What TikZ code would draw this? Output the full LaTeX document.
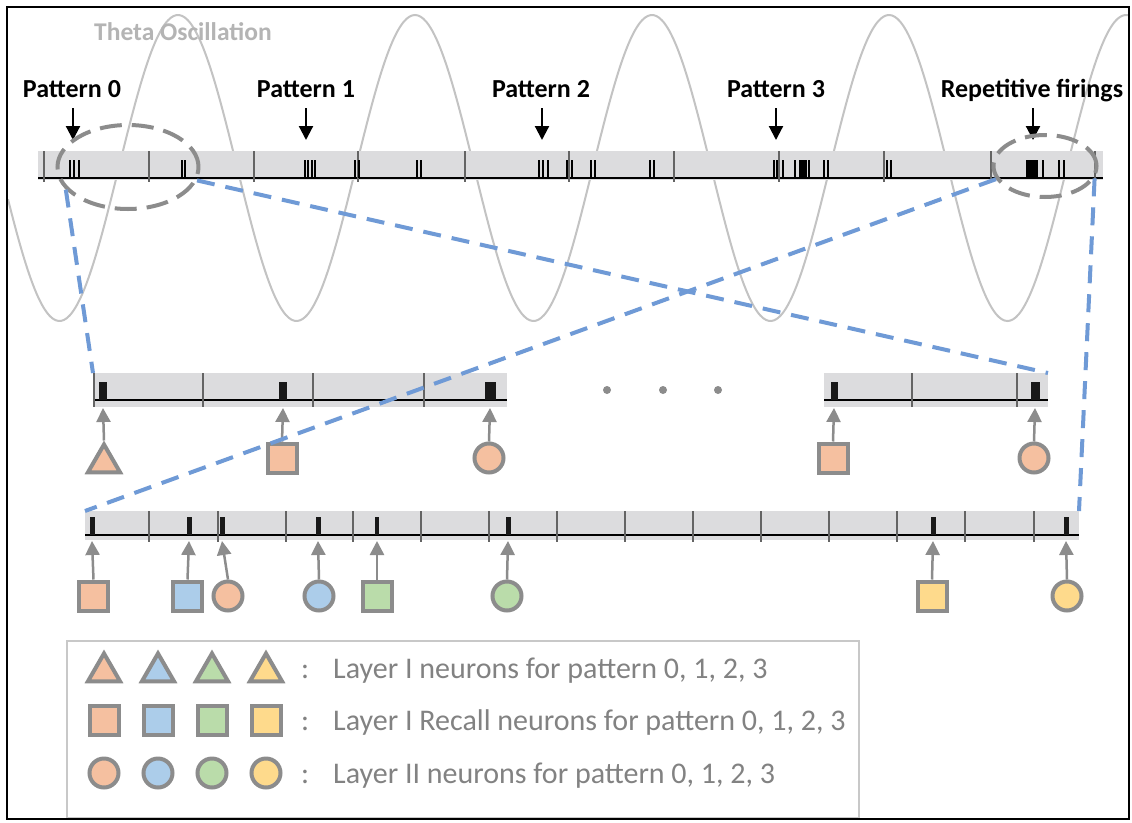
\documentclass[tikz,border=0pt]{standalone}
\usepackage{fontspec}
\setmainfont{Carlito}
\usetikzlibrary{shapes.geometric,arrows.meta}
\definecolor{sgray}{RGB}{140,140,140}
\definecolor{barfill}{RGB}{220,220,222}
\definecolor{divgray}{RGB}{100,100,100}
\definecolor{wavegray}{RGB}{195,195,195}
\definecolor{thetagray}{RGB}{180,180,180}
\definecolor{legtext}{RGB}{130,130,130}
\definecolor{legbox}{RGB}{200,200,200}
\definecolor{bluedash}{RGB}{111,154,214}
\definecolor{corange}{RGB}{245,192,160}
\definecolor{cblue}{RGB}{172,205,234}
\definecolor{cgreen}{RGB}{186,220,170}
\definecolor{cyellow}{RGB}{254,218,140}
\tikzset{
  sq/.style={rectangle, draw=sgray, line width=4pt, minimum size=29pt, inner sep=0pt},
  ci/.style={circle, draw=sgray, line width=4pt, minimum size=29pt, inner sep=0pt},
  tri/.style={regular polygon, regular polygon sides=3, draw=sgray, line width=4pt, minimum size=37pt, inner sep=0pt},
  garr/.style={draw=sgray, line width=2.5pt, -{Triangle[width=14pt,length=14pt]}},
  darr/.style={draw=black, line width=2.2pt, -{Triangle[width=14pt,length=14pt]}},
  barbg/.style={fill=barfill, draw=none, inner sep=0pt, outer sep=0pt, anchor=north west},
  baseln/.style={draw=black, line width=2pt},
  divln/.style={draw=divgray, line width=1.3pt},
  spk/.style={draw=black, line width=1.5pt},
  blk/.style={fill=black!90},
  ell/.style={ellipse, draw=sgray, line width=4pt, dash pattern=on 22pt off 10pt, inner sep=0pt},
  bdash/.style={draw=bluedash, line width=4pt, dash pattern=on 18pt off 11pt},
  wave/.style={draw=wavegray, line width=2pt},
  patlab/.style={font=\fontsize{26}{30}\selectfont\bfseries, text=black, anchor=base, inner sep=0pt, text depth=0pt},
  legtxt/.style={font=\fontsize{30}{34}\selectfont, text=legtext, anchor=base west, inner sep=0pt},
  dotc/.style={circle, fill=sgray, minimum size=8pt, inner sep=0pt}
}
\begin{document}
\begin{tikzpicture}[x=1pt,y=-1pt]
\useasboundingbox (0,0) rectangle (1132,822);
\fill[white] (0,0) rectangle (1132,822);
% theta wave
\begin{scope}
\clip (8,8) rectangle (1128,818);
\draw[wave] plot[domain=8:1128,samples=400,smooth] (\x,{168-153*cos((\x-178)/237*360)});
\end{scope}
\node[font=\fontsize{25.5}{30}\selectfont\bfseries, text=thetagray, anchor=base west, inner sep=0pt] (theta) at (94,40) {Theta Oscillation};
% top spike train
\node[barbg, minimum width=1065pt, minimum height=29pt] (tb) at (38,151) {};
\draw[baseln] (38,178) -- (1103,178);
\foreach \x in {44,149,254,358,465,569,674,779,884,991,1095} \draw[divln] (\x,151) -- (\x,182);
\foreach \x in {70,74,79,182,185,305,308,312,315,355,359,417,421,539,543,548,567,572,591,595,650,654,774,777,783,795,800,802,804,806,809,824,828,887,891,1027,1029,1031,1033,1035,1037,1043,1059,1064}
  \draw[spk] (\x,160) -- (\x,178);
% pattern labels
\node[patlab] (p0) at (72,97) {Pattern 0};
\node[patlab] (p1) at (306,97) {Pattern 1};
\node[patlab] (p2) at (541,97) {Pattern 2};
\node[patlab] (p3) at (776,97) {Pattern 3};
\node[patlab] (p4) at (1032,97) {Repetitive firings};
\coordinate (a0) at (73,140);
\coordinate (a1) at (306,140);
\coordinate (a2) at (542,140);
\coordinate (a3) at (776,140);
\coordinate (a4) at (1033,140);
\draw[darr] ([yshift=-11pt]p0.south -| a0) -- (a0);
\draw[darr] ([yshift=-11pt]p1.south -| a1) -- (a1);
\draw[darr] ([yshift=-11pt]p2.south -| a2) -- (a2);
\draw[darr] ([yshift=-11pt]p3.south -| a3) -- (a3);
\draw[darr] ([yshift=-11pt]p4.south -| a4) -- (a4);
% ellipses
\node[ell, minimum width=141pt, minimum height=84pt] (e0) at (128,167) {};
\node[ell, minimum width=103pt, minimum height=62pt] (e1) at (1045,166) {};
% middle bars
\node[barbg, minimum width=414pt, minimum height=34pt] (b1) at (93,373) {};
\draw[baseln] (93,400) -- (507,400);
\foreach \x in {94,203,313,424} \draw[divln] (\x,373) -- (\x,407);
\fill[blk] (99,382) rectangle (107,400);
\fill[blk] (279,382) rectangle (287,400);
\fill[blk] (485,382) rectangle (496,400);
\node[barbg, minimum width=224pt, minimum height=34pt] (b2) at (824,373) {};
\draw[baseln] (824,400) -- (1048,400);
\foreach \x in {912,1017} \draw[divln] (\x,373) -- (\x,407);
\fill[blk] (831,382) rectangle (838,400);
\fill[blk] (1031,382) rectangle (1040,400);
\node[dotc] (d1) at (607,390) {};
\node[dotc] (d2) at (663,390) {};
\node[dotc] (d3) at (718,390) {};
% middle shapes
\coordinate (m1) at (103,408);
\coordinate (m2) at (283,408);
\coordinate (m3) at (490,408);
\coordinate (m4) at (834,408);
\coordinate (m5) at (1035,408);
\node[tri, fill=corange] (t1) at (104,463) {};
\node[sq, fill=corange] (s1) at (282,458) {};
\node[ci, fill=corange] (c1) at (489,458) {};
\node[sq, fill=corange] (s2) at (833,458) {};
\node[ci, fill=corange] (c2) at (1034,458) {};
\draw[garr] (t1.north) -- (m1);
\draw[garr] (s1.north) -- (m2);
\draw[garr] (c1.north) -- (m3);
\draw[garr] (s2.north) -- (m4);
\draw[garr] (c2.north) -- (m5);
% bottom bar
\node[barbg, minimum width=994pt, minimum height=29pt] (b3) at (85,511) {};
\draw[baseln] (85,535) -- (1079,535);
\foreach \x in {149,218,286,353,421,489,557,625,693,761,829,897,965,1034} \draw[divln] (\x,511) -- (\x,542);
\foreach \x in {92,189,222,318,508,933,1066} \fill[blk] (\x-2.5,517) rectangle (\x+2.5,535);
\fill[blk] (375,517) rectangle (379,535);
\coordinate (n1) at (92,541);
\coordinate (n2) at (189,541);
\coordinate (n3) at (222,541);
\coordinate (n4) at (318,541);
\coordinate (n5) at (377,541);
\coordinate (n6) at (508,541);
\coordinate (n7) at (933,541);
\coordinate (n8) at (1066,541);
\node[sq, fill=corange] (q1) at (93.5,596) {};
\node[sq, fill=cblue] (q2) at (187.5,596) {};
\node[ci, fill=corange] (r1) at (228,596) {};
\node[ci, fill=cblue] (r2) at (319,596) {};
\node[sq, fill=cgreen] (q3) at (377,596) {};
\node[ci, fill=cgreen] (r3) at (507,596) {};
\node[sq, fill=cyellow] (q4) at (932,596) {};
\node[ci, fill=cyellow] (r4) at (1067,596) {};
\draw[garr] (q1.north) -- (n1);
\draw[garr] (q2.north) -- (n2);
\draw[garr] (r1.north) -- (n3);
\draw[garr] (r2.north) -- (n4);
\draw[garr] (q3.north) -- (n5);
\draw[garr] (r3.north) -- (n6);
\draw[garr] (q4.north) -- (n7);
\draw[garr] (r4.north) -- (n8);
% blue dashed zoom lines
\draw[bdash] (e0.200) -- (b1.north west);
\draw[bdash] (e0.349) -- (b2.north east);
\draw[bdash] (e1.195) -- (b3.north west);
\draw[bdash] (e1.346) -- (b3.north east);
% legend
\node[draw=legbox, line width=2pt, minimum width=792pt, minimum height=177pt, anchor=north west, inner sep=0pt] (leg) at (66,640) {};
\node[tri, fill=corange] (lt0) at (104,672) {};
\node[tri, fill=cblue] (lt1) at (158,672) {};
\node[tri, fill=cgreen] (lt2) at (212,672) {};
\node[tri, fill=cyellow] (lt3) at (266,672) {};
\node[sq, fill=corange] (ls0) at (104,720) {};
\node[sq, fill=cblue] (ls1) at (158,720) {};
\node[sq, fill=cgreen] (ls2) at (212,720) {};
\node[sq, fill=cyellow] (ls3) at (266,720) {};
\node[ci, fill=corange] (lc0) at (104,773) {};
\node[ci, fill=cblue] (lc1) at (158,773) {};
\node[ci, fill=cgreen] (lc2) at (212,773) {};
\node[ci, fill=cyellow] (lc3) at (266,773) {};
\node[legtxt] (lx1) at (301,678) {:};
\node[legtxt] (lx2) at (301,730) {:};
\node[legtxt] (lx3) at (301,783) {:};
\node[legtxt] (lg1) at (333,678) {Layer I neurons for pattern 0, 1, 2, 3};
\node[legtxt] (lg2) at (333,730) {Layer I Recall neurons for pattern 0, 1, 2, 3};
\node[legtxt] (lg3) at (333,783) {Layer II neurons for pattern 0, 1, 2, 3};
% frame
\draw[black, line width=2pt] (7,7) rectangle (1129,819);
\end{tikzpicture}
\end{document}
